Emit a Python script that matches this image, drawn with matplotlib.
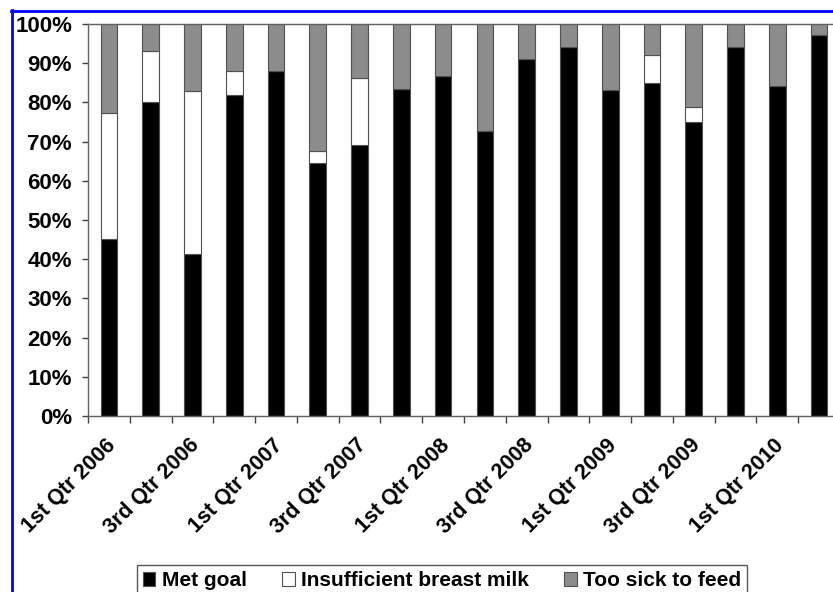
import numpy as np
import matplotlib
matplotlib.use("Agg")
import matplotlib.pyplot as plt
from matplotlib.lines import Line2D
from matplotlib.transforms import ScaledTranslation

plt.rcParams['font.family'] = ['Liberation Sans', 'DejaVu Sans']
plt.rcParams['font.weight'] = 'bold'

quarters = ["1st Qtr 2006", "2nd Qtr 2006", "3rd Qtr 2006", "4th Qtr 2006",
            "1st Qtr 2007", "2nd Qtr 2007", "3rd Qtr 2007", "4th Qtr 2007",
            "1st Qtr 2008", "2nd Qtr 2008", "3rd Qtr 2008", "4th Qtr 2008",
            "1st Qtr 2009", "2nd Qtr 2009", "3rd Qtr 2009", "4th Qtr 2009",
            "1st Qtr 2010", "2nd Qtr 2010"]
met_goal = [45.2, 80.0, 41.4, 81.9, 87.9, 64.5, 69.2, 83.4, 86.8,
            72.8, 91.1, 94.1, 83.1, 84.9, 75.0, 94.1, 84.2, 97.3]
insufficient = [32.0, 13.2, 41.4, 6.0, 0.0, 3.2, 17.0, 0.0, 0.0,
                0.0, 0.0, 0.0, 0.0, 7.1, 3.9, 0.0, 0.0, 0.0]
too_sick = [22.8, 6.8, 17.2, 12.1, 12.1, 32.3, 13.8, 16.6, 13.2,
            27.2, 8.9, 5.9, 16.9, 8.0, 21.1, 5.9, 15.8, 2.7]
y_ticks = [0, 10, 20, 30, 40, 50, 60, 70, 80, 90, 100]

x = np.arange(len(quarters))
met = np.array(met_goal)
ins = np.array(insufficient)
sick = np.array(too_sick)

W, H = 833, 592
fig = plt.figure(figsize=(W / 100, H / 100), dpi=100)
ax = fig.add_axes([88 / W, 1 - 416 / H, 752 / W, 392 / H])

edge = '#505050'
ax.bar(x, met, 0.4, color='black', edgecolor=edge, linewidth=0.8, label='Met goal')
ax.bar(x, ins, 0.4, bottom=met, color='white', edgecolor=edge, linewidth=0.8,
       label='Insufficient breast milk')
ax.bar(x, sick, 0.4, bottom=met + ins, color='#8c8c8c', edgecolor=edge, linewidth=0.8,
       label='Too sick to feed')

ax.set_xlim(-0.5, len(quarters) - 0.5)
ax.set_ylim(0, 100)
ax.set_yticks(y_ticks)
ax.set_yticklabels([f"{v}%" for v in y_ticks], fontsize=16)
ax.tick_params(axis='y', length=4.5, width=1, color='#404040', pad=7)

# labels on every other quarter, tick marks between the categories
ax.set_xticks(x[::2])
ax.set_xticklabels(quarters[::2], rotation=45, ha='right', va='top', fontsize=15.5)
ax.tick_params(axis='x', which='major', length=0, pad=13.5)
ax.set_xticks(np.arange(len(quarters) + 1) - 0.5, minor=True)
ax.tick_params(axis='x', which='minor', length=5, width=1, color='#404040')
offset = ScaledTranslation(0.11, 0, fig.dpi_scale_trans)
for lab in ax.get_xticklabels():
    lab.set_transform(lab.get_transform() + offset)

for s in ax.spines.values():
    s.set_color('#606060')
    s.set_linewidth(1)

leg = fig.legend(loc='upper center', bbox_to_anchor=(442 / W, 1 - 565 / H), ncol=3,
                 fontsize=15, frameon=True, fancybox=False, handlelength=0.6,
                 handleheight=0.6, handletextpad=0.3, columnspacing=1.7,
                 borderpad=0.3, borderaxespad=0)
leg.get_frame().set_edgecolor('#303030')
leg.get_frame().set_linewidth(1)

# blue frame around the picture (cut off on the right and bottom)
fig.add_artist(Line2D([11.5 / W, 11.5 / W], [0, 1 - 10 / H], color='blue', linewidth=2,
                      transform=fig.transFigure))
fig.add_artist(Line2D([10.5 / W, 1], [1 - 10.5 / H, 1 - 10.5 / H], color='blue', linewidth=2,
                      transform=fig.transFigure))

fig.savefig('out.png', dpi=100)
